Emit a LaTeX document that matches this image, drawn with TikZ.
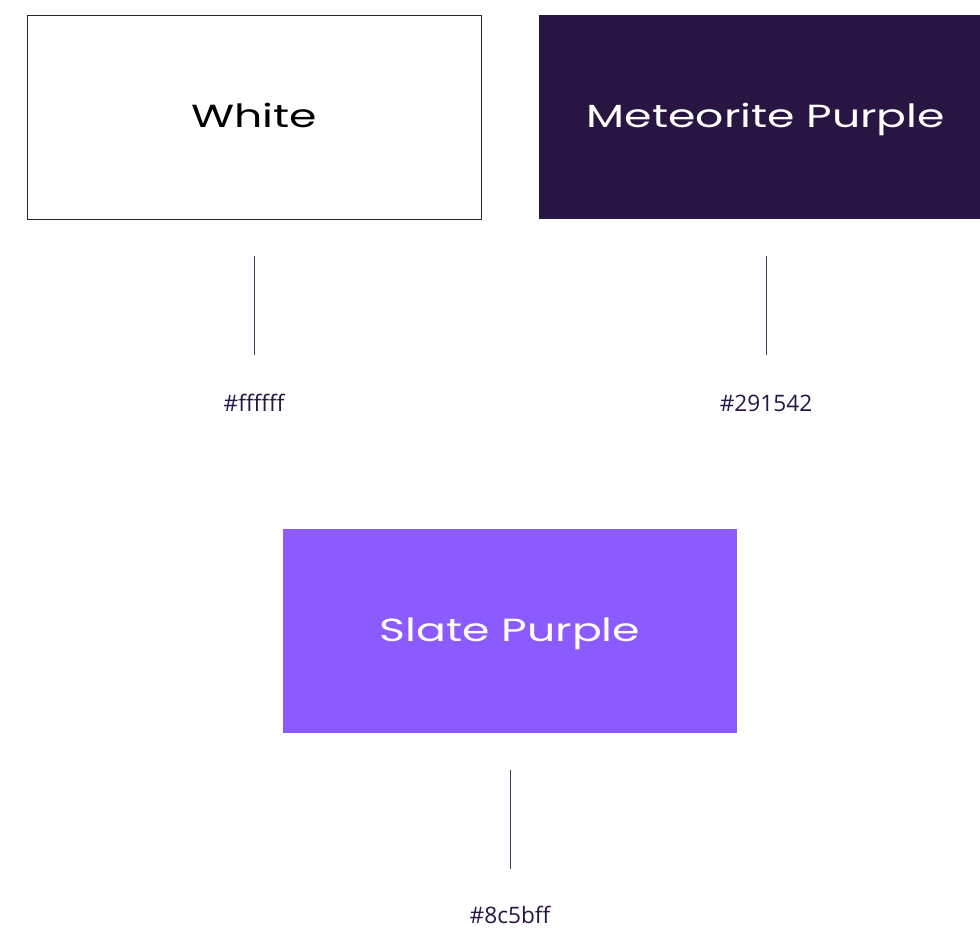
\documentclass[tikz,border=0pt]{standalone}
\usepackage{fontspec}
\setmainfont{Open Sans}
\newfontfamily\swatchfont[FakeStretch=1.38]{Poppins}
\definecolor{meteorite}{HTML}{291542}
\definecolor{slate}{HTML}{8C5BFF}
\tikzset{
  swatch/.style={rectangle, inner sep=0pt, minimum width=454*0.75pt, minimum height=204*0.75pt,
    font=\swatchfont\fontsize{24}{28}\selectfont},
  swatchtext/.style={inner sep=0pt, font=\swatchfont\fontsize{24}{28}\selectfont},
  stem/.style={draw=meteorite!85, line width=0.75pt},
  hexlabel/.style={text=meteorite, inner sep=0pt, font=\fontsize{17}{20}\selectfont}
}
\begin{document}
\begin{tikzpicture}[x=0.75pt, y=-0.75pt]
  \useasboundingbox (0,0) rectangle (980,928);
  \begin{scope}
    \clip (0,0) rectangle (980,928);
    % colour swatches
    \node[swatch, draw=black!85, line width=0.6pt, fill=white] (white) at (254,117) {};
    \node[swatch, fill=meteorite] (meteorite) at (766,117) {};
    \node[swatch, fill=slate] (slate) at (510,631) {};
  \end{scope}
  % swatch names
  \node[swatchtext, text=black, anchor=base] (wname) at (254,127) {White};
  \node[swatchtext, text=white, anchor=base] (mname) at (766,127) {Meteorite Purple};
  \node[swatchtext, text=white, anchor=base] (sname) at (510,641) {Slate Purple};
  % stems
  \coordinate (w1) at (254,256); \coordinate (w2) at (254,355);
  \coordinate (m1) at (766,256); \coordinate (m2) at (766,355);
  \coordinate (s1) at (510,770); \coordinate (s2) at (510,869);
  \draw[stem] (w1) -- (w2);
  \draw[stem] (m1) -- (m2);
  \draw[stem] (s1) -- (s2);
  % hex codes
  \node[hexlabel] (whex) at (254,403) {\#ffffff};
  \node[hexlabel] (mhex) at (766,403) {\#291542};
  \node[hexlabel] (shex) at (510,915) {\#8c5bff};
\end{tikzpicture}
\end{document}
